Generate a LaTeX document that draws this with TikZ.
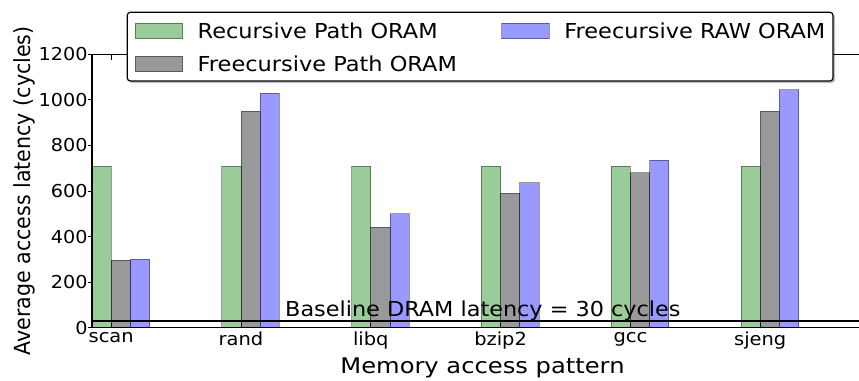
\documentclass[tikz,border=0pt]{standalone}
\usepackage{fontspec}
\setmainfont{DejaVu Sans}
\definecolor{gbar}{RGB}{0,128,0}
\definecolor{kbar}{RGB}{0,0,0}
\definecolor{bbar}{RGB}{0,0,255}
% slightly widened lettering
\newcommand{\wtxt}[2][1.08]{\scalebox{#1}[1]{#2}}
\tikzset{
  barpatch/.style={fill=#1, fill opacity=0.4, draw=black, draw opacity=0.4, line width=1pt},
  spine/.style={line width=1.4pt, black},
  tickmark/.style={line width=1pt, black},
  ytick/.style={font=\fontsize{17.8}{20}\selectfont, inner sep=0pt, anchor=east},
  xtick/.style={font=\fontsize{18}{20}\selectfont, inner sep=0pt, anchor=north},
  axlabel/.style={font=\fontsize{21.5}{24}\selectfont, inner sep=0pt},
  legtext/.style={font=\fontsize{20.6}{24}\selectfont, inner sep=0pt, anchor=base west},
}
\begin{document}
\begin{tikzpicture}[x=1pt,y=-1pt]
\useasboundingbox (0,0) rectangle (859,380);
\fill[white] (0,0) rectangle (859,380);

% grouped bars: recursive / freecursive path / freecursive RAW
\foreach \i/\lab/\a/\b/\c in {0/scan/708/295/300, 1/rand/708/950/1030,
    2/libq/708/442/500, 3/bzip2/708/590/637, 4/gcc/708/680/735, 5/sjeng/708/950/1045} {
  \pgfmathsetmacro\xs{92+129.8*\i}
  \pgfmathsetmacro\xa{\xs+19.2}
  \pgfmathsetmacro\xb{\xs+38.4}
  \pgfmathsetmacro\xc{\xs+57.6}
  \draw[barpatch=gbar] (\xs,327.7) rectangle (\xa,{327.7-0.22783*\a});
  \draw[barpatch=kbar] (\xa,327.7) rectangle (\xb,{327.7-0.22783*\b});
  \draw[barpatch=bbar] (\xb,327.7) rectangle (\xc,{327.7-0.22783*\c});
  \draw[tickmark] (\xa,327.7) -- (\xa,323);
  \node[xtick] (xl\i) at (\xa,332) {\wtxt{\lab}};
}

% baseline DRAM latency (30 cycles)
\draw[line width=1.4pt] (92,{327.7-0.22783*30}) -- (859,{327.7-0.22783*30});
\node[legtext] (base) at (285,316) {\wtxt[1.085]{Baseline DRAM latency = 30 cycles}};

% axes frame
\draw[spine] (859,54.3) -- (92,54.3) -- (92,327.7) -- (859,327.7);
\draw[tickmark] (111.2,54.3) -- (111.2,59.5);

% y ticks and labels
\foreach \v in {0,200,400,600,800,1000,1200} {
  \draw[tickmark] (88,{327.7-0.22783*\v}) -- (92,{327.7-0.22783*\v});
  \node[ytick] (yl\v) at (87.8,{327.7-0.22783*\v}) {\wtxt{\v}};
}

% axis titles
\node[axlabel, anchor=base] (xlab) at (482.5,373.3) {\wtxt[1.125]{Memory access pattern}};
\node[axlabel, font=\fontsize{20.6}{24}\selectfont, anchor=base, rotate=90] (ylab) at (30,191)
  {\scalebox{1}[1.08]{Average access latency (cycles)}};

% legend
\fill[black, opacity=0.25, rounded corners=3pt] (129.3,14.3) rectangle (835,83);
\draw[fill=white, line width=1.2pt, rounded corners=3pt] (127.3,12.3) rectangle (833,81);
\draw[barpatch=gbar] (135,23.3) rectangle (182.7,38.8);
\draw[barpatch=kbar] (135,56) rectangle (182.7,71.7);
\draw[barpatch=bbar] (501.7,23.3) rectangle (549,38.8);
\node[legtext] (leg1) at (197.5,38.3) {\wtxt[1.09]{Recursive Path ORAM}};
\node[legtext] (leg2) at (197.5,71.7) {\wtxt[1.09]{Freecursive Path ORAM}};
\node[legtext] (leg3) at (564.2,38.3) {\wtxt[1.09]{Freecursive RAW ORAM}};
\end{tikzpicture}
\end{document}
